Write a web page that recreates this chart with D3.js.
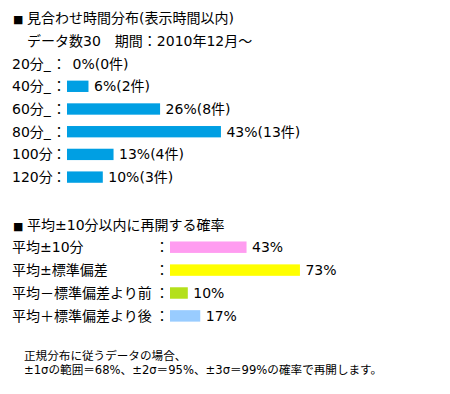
<!DOCTYPE html>
<html>
<head>
<meta charset="utf-8">
<script src="https://cdn.jsdelivr.net/npm/d3@7"></script>
<style>
  body { margin: 0; background: #fff; }
  svg text { font-family: "DejaVu Sans", "Noto Sans CJK JP", sans-serif; fill: #000; }
</style>
</head>
<body>
<svg id="chart"></svg>
<script>
'use strict';

let WIDTH = 450;
let HEIGHT = 394;

// 見合わせ時間分布
let cats1 = ['20分_', '40分_', '60分_', '80分_', '100分', '120分'];
let pct1 = [0, 6, 26, 43, 13, 10];
let cnt1 = [0, 2, 8, 13, 4, 3];

// 平均±10分以内に再開する確率
let cats2 = ['平均±10分', '平均±標準偏差', '平均－標準偏差より前', '平均＋標準偏差より後'];
let pct2 = [43, 73, 10, 17];
let colors2 = ['#ff9cf0', '#ffff00', '#b4e01a', '#99ccff'];

let notes = ['正規分布に従うデータの場合、',
             '±1σの範囲＝68%、±2σ＝95%、±3σ＝99%の確率で再開します。'];

let svg = d3.select('#chart').attr('width', WIDTH).attr('height', HEIGHT);

// titles
function title(y, txt) {
    let t = svg.append('text').attr('x', 13).attr('y', y).style('font-size', '14px');
    t.append('tspan').style('font-size', '11px').text('■');
    t.append('tspan').attr('x', 27).text(txt);
}
title(23, '見合わせ時間分布(表示時間以内)');
svg.append('text').attr('x', 27).attr('y', 46).style('font-size', '14px')
    .text('データ数30　期間：2010年12月～');

// section 1
let x1 = d3.scaleLinear().domain([0, 100]).range([67, 67 + 358]);
let y1 = d3.scaleBand().domain(cats1).range([52.25, 52.25 + 6 * 22.7])
    .paddingInner(0.5).paddingOuter(0.25);
let rows1 = cats1.map(function(c, i) { return {c: c, p: pct1[i], n: cnt1[i]}; });

let g1 = svg.append('g');
g1.selectAll('rect').data(rows1).enter().append('rect')
    .attr('x', x1(0))
    .attr('y', function(d) { return y1(d.c); })
    .attr('width', function(d) { return x1(d.p) - x1(0); })
    .attr('height', y1.bandwidth())
    .attr('fill', '#009fe3');
g1.selectAll('text.lab').data(rows1).enter().append('text').attr('class', 'lab')
    .attr('x', 12)
    .attr('y', function(d) { return y1(d.c) + y1.bandwidth() / 2 + 5; })
    .style('font-size', '14px')
    .text(function(d) { return d.c; });
g1.selectAll('text.col').data(rows1).enter().append('text').attr('class', 'col')
    .attr('x', 59).attr('text-anchor', 'middle')
    .attr('y', function(d) { return y1(d.c) + y1.bandwidth() / 2 + 5; })
    .style('font-size', '14px')
    .text('：');
g1.selectAll('text.val').data(rows1).enter().append('text').attr('class', 'val')
    .attr('x', function(d) { return x1(d.p) + 5.5; })
    .attr('y', function(d) { return y1(d.c) + y1.bandwidth() / 2 + 5; })
    .style('font-size', '14px')
    .text(function(d) { return d.p + '%(' + d.n + '件)'; });

// section 2
title(230, '平均±10分以内に再開する確率');

let x2 = d3.scaleLinear().domain([0, 100]).range([170, 170 + 178]);
let y2 = d3.scaleBand().domain(cats2).range([235.75, 235.75 + 4 * 22.9])
    .paddingInner(0.5).paddingOuter(0.25);
let rows2 = cats2.map(function(c, i) { return {c: c, p: pct2[i], col: colors2[i]}; });

let g2 = svg.append('g');
g2.selectAll('rect').data(rows2).enter().append('rect')
    .attr('x', x2(0))
    .attr('y', function(d) { return y2(d.c); })
    .attr('width', function(d) { return x2(d.p) - x2(0); })
    .attr('height', y2.bandwidth())
    .attr('fill', function(d) { return d.col; });
g2.selectAll('text.lab').data(rows2).enter().append('text').attr('class', 'lab')
    .attr('x', 12)
    .attr('y', function(d) { return y2(d.c) + y2.bandwidth() / 2 + 5; })
    .style('font-size', '14px')
    .text(function(d) { return d.c; });
g2.selectAll('text.col').data(rows2).enter().append('text').attr('class', 'col')
    .attr('x', 162).attr('text-anchor', 'middle')
    .attr('y', function(d) { return y2(d.c) + y2.bandwidth() / 2 + 5; })
    .style('font-size', '14px')
    .text('：');
g2.selectAll('text.val').data(rows2).enter().append('text').attr('class', 'val')
    .attr('x', function(d) { return x2(d.p) + 5.5; })
    .attr('y', function(d) { return y2(d.c) + y2.bandwidth() / 2 + 5; })
    .style('font-size', '14px')
    .text(function(d) { return d.p + '%'; });

// footnote
svg.selectAll('text.note').data(notes).enter().append('text').attr('class', 'note')
    .attr('x', 24)
    .attr('y', function(d, i) { return 360 + i * 13.5; })
    .style('font-size', '11.6px')
    .text(function(d) { return d; });
</script>
</body>
</html>
